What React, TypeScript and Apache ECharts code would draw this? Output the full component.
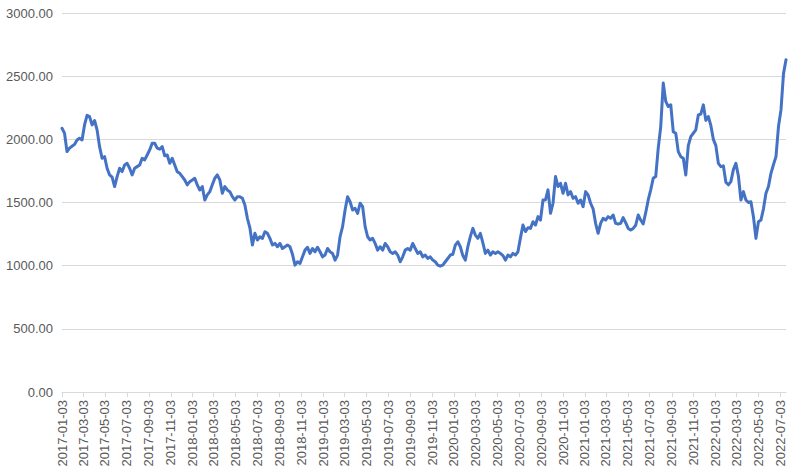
import React, { useEffect, useRef } from "react";
import * as echarts from "echarts";

// Axis range
const START_DATE = "2017-01-03";
const TOTAL_DAYS = 2024; // calendar days on the category axis
const SAMPLE_DAYS = 7; // one reading per week

// Tick labels on the x axis (every two months)
const tickLabels = [
  "2017-01-03", "2017-03-03", "2017-05-03", "2017-07-03", "2017-09-03", "2017-11-03",
  "2018-01-03", "2018-03-03", "2018-05-03", "2018-07-03", "2018-09-03", "2018-11-03",
  "2019-01-03", "2019-03-03", "2019-05-03", "2019-07-03", "2019-09-03", "2019-11-03",
  "2020-01-03", "2020-03-03", "2020-05-03", "2020-07-03", "2020-09-03", "2020-11-03",
  "2021-01-03", "2021-03-03", "2021-05-03", "2021-07-03", "2021-09-03", "2021-11-03",
  "2022-01-03", "2022-03-03", "2022-05-03", "2022-07-03",
];

// Weekly values
const values = [
  2088, 2049, 1903, 1930, 1945, 1960, 1995, 2009, 1995, 2114,
  2190, 2180, 2114, 2149, 2075, 1942, 1850, 1863, 1771, 1718,
  1700, 1626, 1705, 1771, 1745, 1797, 1810, 1771, 1718, 1771,
  1784, 1797, 1850, 1837, 1876, 1916, 1969, 1969, 1930, 1922,
  1942, 1870, 1876, 1810, 1850, 1797, 1744, 1731, 1705, 1678,
  1639, 1665, 1678, 1692, 1639, 1599, 1626, 1520, 1560, 1586,
  1640, 1692, 1718, 1679, 1573, 1626, 1599, 1586, 1546, 1520,
  1546, 1546, 1533, 1480, 1375, 1300, 1163, 1256, 1203, 1229,
  1216, 1269, 1256, 1216, 1163, 1176, 1150, 1176, 1136, 1150,
  1163, 1150, 1090, 1004, 1031, 1018, 1070, 1123, 1145, 1097,
  1136, 1110, 1145, 1110, 1070, 1084, 1136, 1110, 1097, 1044,
  1084, 1230, 1309, 1441, 1546, 1506, 1441, 1454, 1414, 1494,
  1467, 1309, 1229, 1203, 1216, 1176, 1123, 1150, 1123, 1176,
  1150, 1110, 1097, 1110, 1084, 1031, 1070, 1123, 1136, 1123,
  1176, 1136, 1097, 1110, 1070, 1084, 1057, 1070, 1044, 1031,
  1004, 996, 1004, 1031, 1057, 1084, 1090, 1163, 1189, 1150,
  1080, 1044, 1150, 1230, 1295, 1242, 1216, 1256, 1180, 1097,
  1123, 1084, 1110, 1097, 1110, 1097, 1080, 1044, 1084, 1070,
  1097, 1084, 1110, 1220, 1322, 1270, 1300, 1295, 1348, 1322,
  1388, 1361, 1520, 1520, 1600, 1414, 1494, 1705, 1626, 1652,
  1573, 1652, 1560, 1586, 1533, 1546, 1494, 1520, 1467, 1586,
  1560, 1494, 1450, 1335, 1256, 1335, 1375, 1361, 1388, 1375,
  1401, 1335, 1330, 1335, 1380, 1340, 1295, 1282, 1295, 1320,
  1401, 1361, 1330, 1420, 1520, 1600, 1692, 1705, 1930, 2101,
  2445, 2300, 2260, 2273, 2060, 2048, 1903, 1863, 1850, 1718,
  1950, 2022, 2048, 2075, 2193, 2200, 2273, 2150, 2180, 2110,
  2000, 1950, 1810, 1784, 1790, 1660, 1640, 1665, 1760, 1810,
  1710, 1520, 1586, 1520, 1500, 1506, 1388, 1216, 1348, 1361,
  1450, 1573, 1626, 1731, 1800, 1863, 2101, 2233, 2520, 2630,
];

function buildDates(): string[] {
  const [y, m, d] = START_DATE.split("-").map(Number);
  const t0 = Date.UTC(y, m - 1, d);
  const out: string[] = [];
  for (let i = 0; i < TOTAL_DAYS; i++) {
    out.push(new Date(t0 + i * 86400000).toISOString().slice(0, 10));
  }
  return out;
}

export default function App() {
  const ref = useRef<HTMLDivElement>(null);
  useEffect(() => {
    if (!ref.current) return;
    const chart = echarts.init(ref.current, undefined, { renderer: "svg" });
    const dates = buildDates();
    const labelSet = new Set(tickLabels);
    const data = values.map((v, k) => [k * SAMPLE_DAYS, v]);
    const font = "'Liberation Sans', Arial, sans-serif";
    chart.setOption({
      animation: false,
      backgroundColor: "#ffffff",
      grid: { left: 62, right: 14, top: 13, bottom: 78, containLabel: false },
      xAxis: {
        type: "category",
        data: dates,
        boundaryGap: false,
        axisLine: { show: true, lineStyle: { color: "#d9d9d9", width: 1 } },
        axisTick: {
          show: true,
          length: 5,
          interval: (_i: number, v: string) => labelSet.has(v),
          lineStyle: { color: "#d9d9d9" },
        },
        axisLabel: {
          interval: (_i: number, v: string) => labelSet.has(v),
          rotate: 90,
          margin: 8,
          color: "#595959",
          fontSize: 13,
          fontFamily: font,
        },
        splitLine: { show: false },
      },
      yAxis: {
        type: "value",
        min: 0,
        max: 3000,
        interval: 500,
        axisLine: { show: false },
        axisTick: { show: false },
        axisLabel: {
          formatter: (v: number) => v.toFixed(2),
          color: "#595959",
          fontSize: 13,
          fontFamily: font,
          margin: 9,
        },
        splitLine: { lineStyle: { color: "#d9d9d9", width: 1 } },
      },
      series: [
        {
          type: "line",
          data,
          showSymbol: false,
          connectNulls: true,
          lineStyle: { color: "#4472C4", width: 3, cap: "round", join: "round" },
          itemStyle: { color: "#4472C4" },
        },
      ],
    });
    return () => chart.dispose();
  }, []);
  return (
    <div
      ref={ref}
      style={{ position: "fixed", left: 0, top: 0, width: 800, height: 470 }}
    />
  );
}
